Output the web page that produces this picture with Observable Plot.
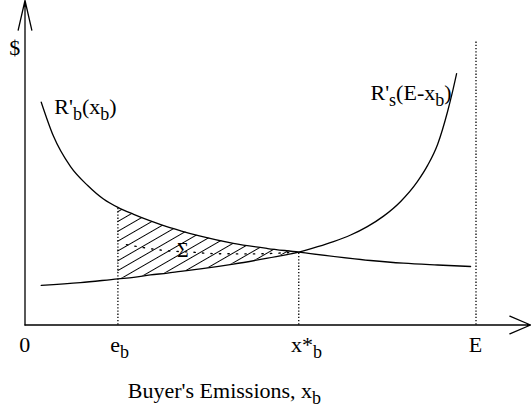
<!DOCTYPE html>
<html><head><meta charset="utf-8">
<script src="https://cdn.jsdelivr.net/npm/d3@7"></script>
<script src="https://cdn.jsdelivr.net/npm/@observablehq/plot@0.6"></script>
<style>
html,body{margin:0;padding:0;background:#fff;overflow:hidden}
svg text{font-family:'Liberation Serif','Times New Roman','Times','Nimbus Roman','DejaVu Serif',serif !important}
</style>
</head><body><div id="chart"></div>
<script>
// ---- data (x: emissions, 0..E ; y: $) ----
const eb = 2.06, xstar = 6.07, E = 10;
const axisTop = 10.82, axisRight = 11.21;

// Buyer's marginal revenue R'_b(x_b)
const rbX = [0.36, 0.63, 1.01, 1.39, 1.74, 2.06, 2.41, 2.78, 3.16, 3.45, 3.89, 4.62, 5.38, 6.07, 6.33, 7.66, 8.39, 9.15, 9.88];
const rbY = [7.43, 6.30, 5.28, 4.65, 4.20, 3.92, 3.69, 3.47, 3.27, 3.14, 2.96, 2.72, 2.55, 2.43, 2.38, 2.15, 2.06, 2.00, 1.95];

// Seller's marginal revenue R'_s(E - x_b)
const rsX = [0.36, 1.23, 2.06, 2.41, 2.78, 3.16, 3.45, 3.89, 4.62, 5.38, 6.07, 6.49, 6.84, 7.22, 7.59, 7.95, 8.33, 8.70, 8.93, 9.15, 9.37, 9.48, 9.57];
const rsY = [1.32, 1.41, 1.54, 1.59, 1.67, 1.73, 1.79, 1.87, 2.03, 2.23, 2.43, 2.61, 2.78, 3.00, 3.28, 3.63, 4.12, 4.78, 5.33, 6.03, 7.12, 7.78, 8.38];

// dotted line through Σ
const sigmaX = [2.25, 2.63, 3.00, 3.78, 4.18, 5.00, 5.67, 6.07];
const sigmaY = [2.68, 2.58, 2.50, 2.42, 2.38, 2.37, 2.40, 2.43];

// vertical dotted guides
const guideX = [eb, xstar, E];
const guideTop = [3.92, 2.43, 9.48];

// tick labels under the x axis
const tickLabels = ["0", "e_{b}", "x*_{b}", "E"];
const tickLabelX = [-0.13, 1.89, 5.90, 9.84];
const tickLabelY = -0.9;

// other labels
const labelText = ["R'_{b}(x_{b})", "R'_{s}(E-x_{b})", "Buyer's Emissions, x_{b}"];
const labelX = [0.65, 7.66, 2.28];
const labelY = [7.04, 7.51, -2.43];
const dollar = {t: "$", x: -0.23, y: 9.0};
const sigmaLabel = {t: "Σ", x: 3.50, y: 2.26};

// ---- tables built from the arrays ----
const rb = rbX.map((x, i) => ({x, y: rbY[i]}));
const rs = rsX.map((x, i) => ({x, y: rsY[i]}));
const sigma = sigmaX.map((x, i) => ({x, y: sigmaY[i]}));
const rsMap = new Map(rs.map(d => [d.x, d.y]));
const hatch = rb.filter(d => d.x >= eb && d.x <= xstar && rsMap.has(d.x)).map(d => ({x: d.x, hi: d.y, lo: rsMap.get(d.x)}));
const guides = guideX.map((x, i) => ({x, y1: 0, y2: guideTop[i]}));
const ticks = tickLabels.map((t, i) => ({t, x: tickLabelX[i], y: tickLabelY}));
const labels = labelText.map((t, i) => ({t, x: labelX[i], y: labelY[i]}));

const font = "'Liberation Serif', 'DejaVu Serif', serif";

const svg = Plot.plot({
  width: 531, height: 412,
  marginLeft: 24.5, marginRight: 55.5, marginTop: 0, marginBottom: 87.5,
  x: {domain: [0, E], axis: null},
  y: {domain: [0, axisTop], axis: null},
  style: {background: "white", fontFamily: font, overflow: "visible"},
  marks: [
    Plot.areaY(hatch, {x: "x", y1: "lo", y2: "hi", fill: "url(#hatch)", curve: "monotone-x"}),
    Plot.ruleX(guides, {x: "x", y1: "y1", y2: "y2", stroke: "black", strokeWidth: 1.3, strokeDasharray: "1.3,1.9"}),
    Plot.line(sigma, {x: "x", y: "y", stroke: "black", strokeWidth: 1.4, strokeDasharray: "1.3,7.2", curve: "monotone-x"}),
    Plot.line(rb, {x: "x", y: "y", stroke: "black", strokeWidth: 1.3, curve: "monotone-x"}),
    Plot.line(rs, {x: "x", y: "y", stroke: "black", strokeWidth: 1.3, curve: "monotone-x"}),
    Plot.arrow([{x1: 0, y1: 0, x2: 0, y2: axisTop}], {x1: "x1", y1: "y1", x2: "x2", y2: "y2", stroke: "black", strokeWidth: 1.3, headAngle: 26, headLength: 35}),
    Plot.arrow([{x1: 0, y1: 0, x2: axisRight, y2: 0}], {x1: "x1", y1: "y1", x2: "x2", y2: "y2", stroke: "black", strokeWidth: 1.3, headAngle: 46, headLength: 26}),
    Plot.text(ticks, {x: "x", y: "y", text: "t", textAnchor: "start", fontSize: 22, fontFamily: font, fill: "black", dy: -7}),
    Plot.text(labels, {x: "x", y: "y", text: "t", textAnchor: "start", fontSize: 22, fontFamily: font, fill: "black", dy: -7}),
    Plot.text([dollar], {x: "x", y: "y", text: "t", textAnchor: "middle", fontSize: 22, fontFamily: font, fill: "black", dy: -7}),
    Plot.text([sigmaLabel], {x: "x", y: "y", text: "t", textAnchor: "middle", fontSize: 20, fontFamily: font, fill: "black", dy: -6.4})
  ]
});

// hatch pattern
const ns = "http://www.w3.org/2000/svg";
const defs = document.createElementNS(ns, "defs");
defs.innerHTML = '<pattern id="hatch" patternUnits="userSpaceOnUse" width="8.5" height="8.5" patternTransform="rotate(-30)"><line x1="-1" y1="4.25" x2="9.5" y2="4.25" stroke="black" stroke-width="1"/></pattern>';
svg.insertBefore(defs, svg.firstChild);

// subscripts: "_{...}" -> lowered, smaller tspan
svg.querySelectorAll("text").forEach(t => {
  const s = t.textContent;
  if (!s.includes("_{")) return;
  while (t.firstChild) t.removeChild(t.firstChild);
  const parts = s.split(/_\{([^}]*)\}/);
  let shifted = false;
  parts.forEach((p, i) => {
    if (p === "") return;
    const ts = document.createElementNS(ns, "tspan");
    ts.textContent = p;
    if (i % 2 === 1) { ts.setAttribute("dy", "6"); ts.setAttribute("font-size", "18"); shifted = true; }
    else if (shifted) { ts.setAttribute("dy", "-6"); shifted = false; }
    t.appendChild(ts);
  });
});

document.getElementById("chart").appendChild(svg);
</script></body></html>
